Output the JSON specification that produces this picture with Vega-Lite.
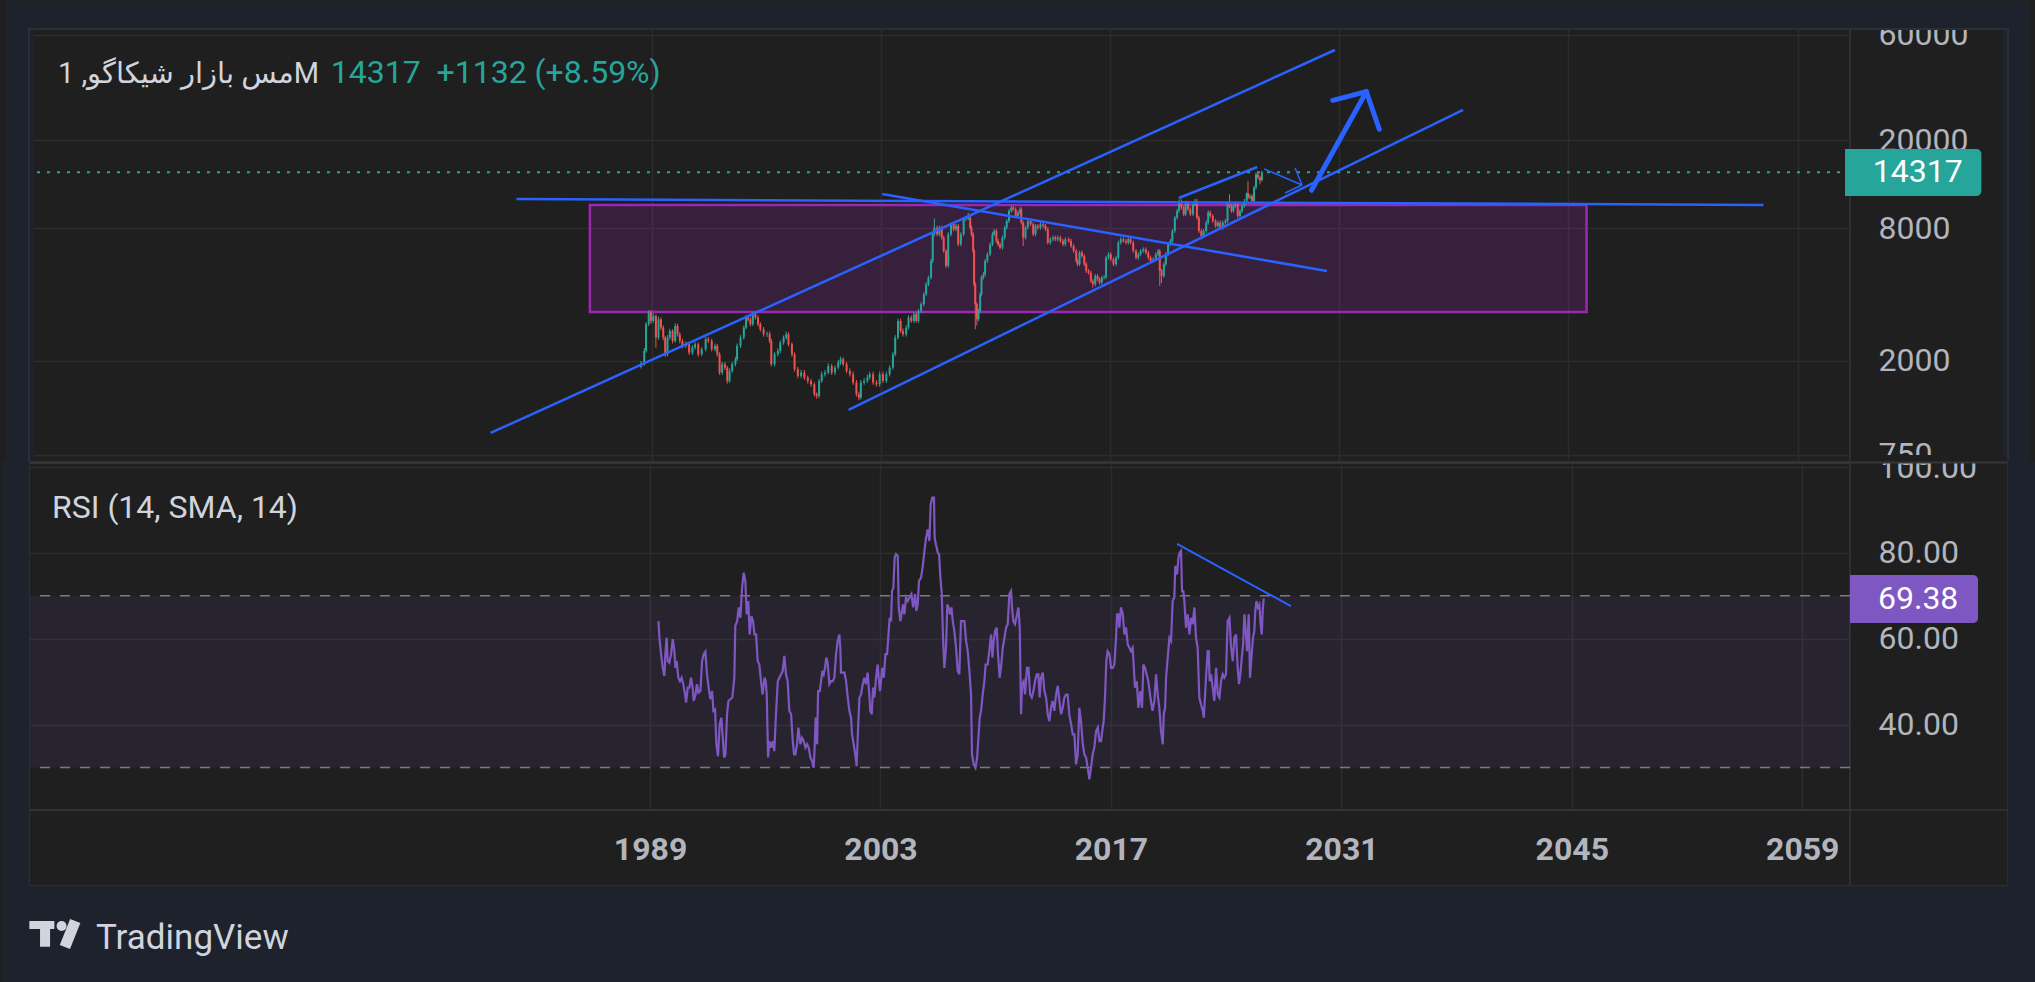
{
"$schema": "https://vega.github.io/schema/vega-lite/v6.json",
"background": "#1f1f1f",
"padding": 0,
"spacing": 1,
"bounds": "flush",
"config": {
 "view": {"stroke": "#363636", "strokeWidth": 1.5},
 "axis": {"labelFont": "Roboto", "labelFontSize": 32, "labelColor": "#b2b5be", "gridColor": "#2c2c2c", "gridWidth": 1.5, "domain": false, "ticks": false, "tickSize": 0, "labelPadding": 28}
},
"datasets": {
 "one": [{}],
 "candles": [
{"t":1988.35,"o":1880,"h":2000,"l":1850,"c":1946},
{"t":1988.55,"o":1946,"h":2290,"l":1900,"c":2221},
{"t":1988.66,"o":2221,"h":3000,"l":2180,"c":2934},
{"t":1988.82,"o":2934,"h":3395,"l":2880,"c":3313},
{"t":1988.96,"o":3313,"h":3400,"l":2950,"c":3037},
{"t":1989.10,"o":3037,"h":3300,"l":2980,"c":3200},
{"t":1989.26,"o":3200,"h":3250,"l":2300,"c":2553},
{"t":1989.42,"o":2553,"h":3180,"l":2500,"c":3090},
{"t":1989.57,"o":3090,"h":3150,"l":2760,"c":2833},
{"t":1989.71,"o":2833,"h":2900,"l":2480,"c":2553},
{"t":1989.83,"o":2553,"h":2600,"l":2090,"c":2145},
{"t":1989.97,"o":2145,"h":2620,"l":2100,"c":2553},
{"t":1990.11,"o":2553,"h":2800,"l":2500,"c":2736},
{"t":1990.28,"o":2736,"h":2790,"l":2400,"c":2466},
{"t":1990.44,"o":2466,"h":2960,"l":2420,"c":2883},
{"t":1990.58,"o":2883,"h":2950,"l":2580,"c":2643},
{"t":1990.72,"o":2643,"h":2700,"l":2400,"c":2466},
{"t":1990.88,"o":2466,"h":2520,"l":2280,"c":2340},
{"t":1991.09,"o":2340,"h":2450,"l":2290,"c":2381},
{"t":1991.29,"o":2381,"h":2430,"l":2130,"c":2183},
{"t":1991.49,"o":2183,"h":2360,"l":2130,"c":2300},
{"t":1991.65,"o":2300,"h":2440,"l":2250,"c":2381},
{"t":1991.85,"o":2381,"h":2430,"l":2090,"c":2145},
{"t":1992.06,"o":2145,"h":2310,"l":2100,"c":2260},
{"t":1992.30,"o":2260,"h":2570,"l":2210,"c":2509},
{"t":1992.46,"o":2509,"h":2570,"l":2410,"c":2466},
{"t":1992.67,"o":2466,"h":2520,"l":2210,"c":2260},
{"t":1992.87,"o":2260,"h":2400,"l":2210,"c":2340},
{"t":1993.01,"o":2340,"h":2390,"l":2090,"c":2145},
{"t":1993.15,"o":2145,"h":2190,"l":1730,"c":1772},
{"t":1993.31,"o":1772,"h":1980,"l":1730,"c":1933},
{"t":1993.48,"o":1933,"h":1980,"l":1820,"c":1867},
{"t":1993.62,"o":1867,"h":1900,"l":1580,"c":1624},
{"t":1993.76,"o":1624,"h":1850,"l":1590,"c":1803},
{"t":1993.92,"o":1803,"h":1980,"l":1770,"c":1933},
{"t":1994.12,"o":1933,"h":2090,"l":1890,"c":2036},
{"t":1994.22,"o":2036,"h":2400,"l":2000,"c":2340},
{"t":1994.43,"o":2340,"h":2620,"l":2290,"c":2553},
{"t":1994.63,"o":2553,"h":2900,"l":2500,"c":2833},
{"t":1994.77,"o":2833,"h":3220,"l":2780,"c":3145},
{"t":1994.89,"o":3145,"h":3230,"l":3020,"c":3090},
{"t":1995.03,"o":3090,"h":3170,"l":2870,"c":2934},
{"t":1995.18,"o":2934,"h":3330,"l":2880,"c":3256},
{"t":1995.34,"o":3256,"h":3340,"l":3080,"c":3145},
{"t":1995.50,"o":3145,"h":3220,"l":2870,"c":2934},
{"t":1995.64,"o":2934,"h":3000,"l":2720,"c":2784},
{"t":1995.84,"o":2784,"h":2850,"l":2580,"c":2643},
{"t":1996.05,"o":2643,"h":2720,"l":2570,"c":2660},
{"t":1996.21,"o":2660,"h":2720,"l":2410,"c":2466},
{"t":1996.31,"o":2466,"h":2520,"l":1890,"c":1933},
{"t":1996.51,"o":1933,"h":2200,"l":1890,"c":2145},
{"t":1996.71,"o":2145,"h":2280,"l":2100,"c":2221},
{"t":1996.86,"o":2221,"h":2480,"l":2170,"c":2423},
{"t":1997.06,"o":2423,"h":2610,"l":2370,"c":2553},
{"t":1997.22,"o":2553,"h":2720,"l":2500,"c":2643},
{"t":1997.36,"o":2643,"h":2700,"l":2330,"c":2381},
{"t":1997.57,"o":2381,"h":2430,"l":2090,"c":2145},
{"t":1997.73,"o":2145,"h":2190,"l":1790,"c":1835},
{"t":1997.93,"o":1835,"h":1880,"l":1670,"c":1711},
{"t":1998.13,"o":1711,"h":1820,"l":1670,"c":1772},
{"t":1998.33,"o":1772,"h":1820,"l":1640,"c":1682},
{"t":1998.54,"o":1682,"h":1720,"l":1580,"c":1624},
{"t":1998.74,"o":1624,"h":1660,"l":1530,"c":1569},
{"t":1998.94,"o":1569,"h":1600,"l":1380,"c":1413},
{"t":1999.08,"o":1413,"h":1440,"l":1350,"c":1389},
{"t":1999.23,"o":1389,"h":1660,"l":1360,"c":1624},
{"t":1999.39,"o":1624,"h":1790,"l":1590,"c":1741},
{"t":1999.59,"o":1741,"h":1820,"l":1700,"c":1772},
{"t":1999.79,"o":1772,"h":1950,"l":1740,"c":1900},
{"t":2000.00,"o":1900,"h":1940,"l":1730,"c":1772},
{"t":2000.20,"o":1772,"h":1910,"l":1730,"c":1867},
{"t":2000.40,"o":1867,"h":2020,"l":1830,"c":1967},
{"t":2000.54,"o":1967,"h":2090,"l":1920,"c":2036},
{"t":2000.70,"o":2036,"h":2080,"l":1890,"c":1933},
{"t":2000.91,"o":1933,"h":1980,"l":1760,"c":1803},
{"t":2001.11,"o":1803,"h":1850,"l":1700,"c":1741},
{"t":2001.31,"o":1741,"h":1790,"l":1560,"c":1596},
{"t":2001.51,"o":1596,"h":1640,"l":1380,"c":1413},
{"t":2001.66,"o":1413,"h":1450,"l":1330,"c":1365},
{"t":2001.78,"o":1365,"h":1640,"l":1340,"c":1596},
{"t":2001.98,"o":1596,"h":1670,"l":1560,"c":1624},
{"t":2002.18,"o":1624,"h":1730,"l":1590,"c":1682},
{"t":2002.32,"o":1682,"h":1790,"l":1650,"c":1741},
{"t":2002.53,"o":1741,"h":1790,"l":1560,"c":1596},
{"t":2002.73,"o":1596,"h":1640,"l":1530,"c":1569},
{"t":2002.93,"o":1569,"h":1790,"l":1530,"c":1741},
{"t":2003.13,"o":1741,"h":1790,"l":1590,"c":1624},
{"t":2003.34,"o":1624,"h":1790,"l":1590,"c":1741},
{"t":2003.54,"o":1741,"h":1910,"l":1700,"c":1867},
{"t":2003.74,"o":1867,"h":2200,"l":1830,"c":2145},
{"t":2003.88,"o":2145,"h":2620,"l":2100,"c":2553},
{"t":2004.05,"o":2553,"h":3110,"l":2500,"c":3037},
{"t":2004.21,"o":3037,"h":3110,"l":2680,"c":2736},
{"t":2004.35,"o":2736,"h":2810,"l":2580,"c":2643},
{"t":2004.55,"o":2643,"h":2900,"l":2580,"c":2833},
{"t":2004.69,"o":2833,"h":3220,"l":2780,"c":3145},
{"t":2004.86,"o":3145,"h":3220,"l":2980,"c":3037},
{"t":2005.02,"o":3037,"h":3330,"l":2980,"c":3256},
{"t":2005.16,"o":3256,"h":3330,"l":2980,"c":3037},
{"t":2005.30,"o":3037,"h":3450,"l":2980,"c":3371},
{"t":2005.46,"o":3371,"h":3700,"l":3300,"c":3614},
{"t":2005.63,"o":3614,"h":4100,"l":3540,"c":4011},
{"t":2005.77,"o":4011,"h":4550,"l":3930,"c":4453},
{"t":2005.91,"o":4453,"h":4880,"l":4360,"c":4774},
{"t":2006.07,"o":4774,"h":5800,"l":4680,"c":5680},
{"t":2006.17,"o":5680,"h":7660,"l":5560,"c":7501},
{"t":2006.27,"o":7501,"h":8850,"l":7350,"c":8041},
{"t":2006.44,"o":8041,"h":8200,"l":7350,"c":7501},
{"t":2006.58,"o":7501,"h":8200,"l":7350,"c":8041},
{"t":2006.72,"o":8041,"h":8200,"l":7100,"c":7245},
{"t":2006.84,"o":7245,"h":7400,"l":6180,"c":6304},
{"t":2006.98,"o":6304,"h":6430,"l":5280,"c":5392},
{"t":2007.12,"o":5392,"h":7660,"l":5280,"c":7501},
{"t":2007.29,"o":7501,"h":8500,"l":7350,"c":8326},
{"t":2007.45,"o":8326,"h":8500,"l":7750,"c":7904},
{"t":2007.59,"o":7904,"h":8350,"l":7750,"c":8183},
{"t":2007.73,"o":8183,"h":8350,"l":6620,"c":6759},
{"t":2007.89,"o":6759,"h":7660,"l":6620,"c":7501},
{"t":2008.06,"o":7501,"h":8950,"l":7350,"c":8772},
{"t":2008.20,"o":8772,"h":8950,"l":8600,"c":8800},
{"t":2008.34,"o":8800,"h":9405,"l":8700,"c":8925},
{"t":2008.46,"o":8925,"h":9100,"l":7880,"c":8041},
{"t":2008.54,"o":8041,"h":8200,"l":7350,"c":7501},
{"t":2008.64,"o":7501,"h":7660,"l":6180,"c":6304},
{"t":2008.70,"o":6304,"h":6430,"l":4360,"c":4453},
{"t":2008.77,"o":4453,"h":4550,"l":2784,"c":3614},
{"t":2008.87,"o":3614,"h":3700,"l":2900,"c":3090},
{"t":2008.97,"o":3090,"h":3450,"l":3030,"c":3371},
{"t":2009.07,"o":3371,"h":4100,"l":3300,"c":4011},
{"t":2009.15,"o":4011,"h":4880,"l":3930,"c":4774},
{"t":2009.27,"o":4774,"h":5050,"l":4680,"c":4943},
{"t":2009.37,"o":4943,"h":5800,"l":4840,"c":5680},
{"t":2009.51,"o":5680,"h":6220,"l":5570,"c":6089},
{"t":2009.68,"o":6089,"h":6900,"l":5970,"c":6759},
{"t":2009.82,"o":6759,"h":7660,"l":6620,"c":7501},
{"t":2009.92,"o":7501,"h":7930,"l":7350,"c":7767},
{"t":2010.06,"o":7767,"h":7930,"l":6860,"c":6998},
{"t":2010.16,"o":6998,"h":7150,"l":6620,"c":6759},
{"t":2010.28,"o":6759,"h":6900,"l":6400,"c":6527},
{"t":2010.43,"o":6527,"h":7400,"l":6400,"c":7245},
{"t":2010.57,"o":7245,"h":8200,"l":7100,"c":8041},
{"t":2010.69,"o":8041,"h":8800,"l":7880,"c":8620},
{"t":2010.83,"o":8620,"h":9770,"l":8450,"c":9571},
{"t":2010.97,"o":9571,"h":10100,"l":9380,"c":9910},
{"t":2011.09,"o":9910,"h":10085,"l":9550,"c":9740},
{"t":2011.24,"o":9740,"h":9940,"l":8900,"c":9080},
{"t":2011.38,"o":9080,"h":9600,"l":8900,"c":9405},
{"t":2011.50,"o":9405,"h":9940,"l":9220,"c":9740},
{"t":2011.58,"o":9740,"h":9940,"l":8300,"c":8472},
{"t":2011.70,"o":8472,"h":8650,"l":6642,"c":7245},
{"t":2011.84,"o":7245,"h":8200,"l":7100,"c":8041},
{"t":2011.98,"o":8041,"h":8800,"l":7880,"c":8620},
{"t":2012.15,"o":8620,"h":8800,"l":8160,"c":8326},
{"t":2012.31,"o":8326,"h":8500,"l":7350,"c":7501},
{"t":2012.45,"o":7501,"h":8350,"l":7350,"c":8183},
{"t":2012.59,"o":8183,"h":8350,"l":7880,"c":8041},
{"t":2012.75,"o":8041,"h":8500,"l":7880,"c":8326},
{"t":2012.92,"o":8326,"h":8500,"l":8020,"c":8183},
{"t":2013.06,"o":8183,"h":8350,"l":7750,"c":7904},
{"t":2013.20,"o":7904,"h":8060,"l":6740,"c":6878},
{"t":2013.36,"o":6878,"h":7270,"l":6740,"c":7121},
{"t":2013.52,"o":7121,"h":7400,"l":6980,"c":7245},
{"t":2013.66,"o":7245,"h":7400,"l":6980,"c":7121},
{"t":2013.81,"o":7121,"h":7400,"l":6980,"c":7245},
{"t":2013.97,"o":7245,"h":7400,"l":6860,"c":6998},
{"t":2014.13,"o":6998,"h":7150,"l":6620,"c":6759},
{"t":2014.27,"o":6759,"h":7270,"l":6620,"c":7121},
{"t":2014.48,"o":7121,"h":7270,"l":6860,"c":6998},
{"t":2014.62,"o":6998,"h":7150,"l":6510,"c":6642},
{"t":2014.78,"o":6642,"h":6780,"l":6180,"c":6304},
{"t":2014.94,"o":6304,"h":6430,"l":5570,"c":5680},
{"t":2015.02,"o":5680,"h":5800,"l":5380,"c":5486},
{"t":2015.14,"o":5486,"h":6320,"l":5380,"c":6195},
{"t":2015.29,"o":6195,"h":6320,"l":5860,"c":5984},
{"t":2015.43,"o":5984,"h":6100,"l":5380,"c":5486},
{"t":2015.55,"o":5486,"h":5600,"l":5010,"c":5117},
{"t":2015.69,"o":5117,"h":5220,"l":4930,"c":5029},
{"t":2015.83,"o":5029,"h":5130,"l":4520,"c":4610},
{"t":2015.95,"o":4610,"h":4700,"l":4300,"c":4453},
{"t":2016.10,"o":4453,"h":4960,"l":4360,"c":4858},
{"t":2016.24,"o":4858,"h":4960,"l":4600,"c":4691},
{"t":2016.36,"o":4691,"h":4790,"l":4440,"c":4531},
{"t":2016.50,"o":4531,"h":4870,"l":4440,"c":4774},
{"t":2016.64,"o":4774,"h":4900,"l":4680,"c":4800},
{"t":2016.76,"o":4800,"h":6000,"l":4700,"c":5881},
{"t":2016.91,"o":5881,"h":6220,"l":5760,"c":6089},
{"t":2017.05,"o":6089,"h":6220,"l":5660,"c":5780},
{"t":2017.21,"o":5780,"h":5900,"l":5380,"c":5486},
{"t":2017.37,"o":5486,"h":6000,"l":5380,"c":5881},
{"t":2017.51,"o":5881,"h":7020,"l":5760,"c":6878},
{"t":2017.66,"o":6878,"h":7270,"l":6740,"c":7121},
{"t":2017.82,"o":7121,"h":7270,"l":6860,"c":6998},
{"t":2017.98,"o":6998,"h":7150,"l":6740,"c":6878},
{"t":2018.12,"o":6878,"h":7270,"l":6740,"c":7121},
{"t":2018.26,"o":7121,"h":7270,"l":6740,"c":6878},
{"t":2018.42,"o":6878,"h":7020,"l":6180,"c":6304},
{"t":2018.59,"o":6304,"h":6430,"l":5760,"c":5881},
{"t":2018.73,"o":5881,"h":6220,"l":5760,"c":6089},
{"t":2018.87,"o":6089,"h":6430,"l":5970,"c":6304},
{"t":2019.03,"o":6304,"h":6550,"l":6180,"c":6415},
{"t":2019.19,"o":6415,"h":6550,"l":6070,"c":6195},
{"t":2019.34,"o":6195,"h":6320,"l":5760,"c":5881},
{"t":2019.48,"o":5881,"h":6000,"l":5570,"c":5680},
{"t":2019.64,"o":5680,"h":5900,"l":5570,"c":5780},
{"t":2019.80,"o":5780,"h":6220,"l":5660,"c":6089},
{"t":2019.94,"o":6089,"h":6430,"l":5970,"c":6304},
{"t":2020.04,"o":6304,"h":6430,"l":4376,"c":5117},
{"t":2020.15,"o":5117,"h":5220,"l":4500,"c":4858},
{"t":2020.29,"o":4858,"h":5600,"l":4760,"c":5486},
{"t":2020.41,"o":5486,"h":6220,"l":5380,"c":6089},
{"t":2020.55,"o":6089,"h":6900,"l":5970,"c":6759},
{"t":2020.69,"o":6759,"h":7150,"l":6620,"c":6998},
{"t":2020.81,"o":6998,"h":7930,"l":6860,"c":7767},
{"t":2020.96,"o":7767,"h":9100,"l":7610,"c":8925},
{"t":2021.10,"o":8925,"h":9770,"l":8750,"c":9571},
{"t":2021.22,"o":9571,"h":10810,"l":9380,"c":10623},
{"t":2021.36,"o":10623,"h":10810,"l":9710,"c":9910},
{"t":2021.50,"o":9910,"h":10100,"l":9060,"c":9241},
{"t":2021.62,"o":9241,"h":10650,"l":9060,"c":10440},
{"t":2021.77,"o":10440,"h":10650,"l":9550,"c":9740},
{"t":2021.91,"o":9740,"h":9940,"l":9060,"c":9241},
{"t":2022.07,"o":9241,"h":10470,"l":9060,"c":10260},
{"t":2022.19,"o":10260,"h":10840,"l":10050,"c":10623},
{"t":2022.31,"o":10623,"h":10840,"l":8750,"c":8925},
{"t":2022.43,"o":8925,"h":9100,"l":7610,"c":7767},
{"t":2022.58,"o":7767,"h":7930,"l":7121,"c":7372},
{"t":2022.72,"o":7372,"h":7930,"l":7220,"c":7767},
{"t":2022.88,"o":7767,"h":8650,"l":7610,"c":8472},
{"t":2023.00,"o":8472,"h":9600,"l":8300,"c":9405},
{"t":2023.12,"o":9405,"h":9600,"l":8900,"c":9080},
{"t":2023.28,"o":9080,"h":9260,"l":8450,"c":8620},
{"t":2023.45,"o":8620,"h":8800,"l":8020,"c":8183},
{"t":2023.59,"o":8183,"h":8650,"l":8020,"c":8472},
{"t":2023.73,"o":8472,"h":8650,"l":7880,"c":8041},
{"t":2023.89,"o":8041,"h":8650,"l":7880,"c":8472},
{"t":2024.05,"o":8472,"h":8800,"l":8300,"c":8620},
{"t":2024.18,"o":8620,"h":10470,"l":8450,"c":10260},
{"t":2024.30,"o":10260,"h":11388,"l":9880,"c":10085},
{"t":2024.42,"o":10085,"h":10290,"l":9380,"c":9571},
{"t":2024.54,"o":9571,"h":10290,"l":9380,"c":10085},
{"t":2024.66,"o":10085,"h":10470,"l":9880,"c":10260},
{"t":2024.80,"o":10260,"h":10470,"l":8900,"c":9080},
{"t":2024.94,"o":9080,"h":9770,"l":8900,"c":9571},
{"t":2025.07,"o":9571,"h":10290,"l":9380,"c":10085},
{"t":2025.21,"o":10085,"h":10840,"l":9880,"c":10623},
{"t":2025.35,"o":10623,"h":11600,"l":10410,"c":11500},
{"t":2025.43,"o":11500,"h":13084,"l":10800,"c":11000},
{"t":2025.55,"o":11000,"h":11400,"l":10800,"c":11150},
{"t":2025.67,"o":11150,"h":11380,"l":10410,"c":10623},
{"t":2025.80,"o":10623,"h":12450,"l":10410,"c":12209},
{"t":2025.92,"o":12209,"h":14300,"l":11960,"c":14026},
{"t":2026.04,"o":14026,"h":14300,"l":13280,"c":13547},
{"t":2026.16,"o":13547,"h":13820,"l":12640,"c":13185},
{"t":2026.28,"o":13185,"h":14560,"l":13000,"c":14317}
 ],
 "rsi": [
{"t":1989.51,"r":64.1},{"t":1989.57,"r":60.2},{"t":1989.67,"r":56.4},{"t":1989.77,"r":53.2},{"t":1989.87,"r":51.3},{"t":1989.93,"r":56.4},{"t":1990.01,"r":60.2},{"t":1990.07,"r":54.8},{"t":1990.17,"r":54.4},{"t":1990.28,"r":56.4},{"t":1990.38,"r":59.9},{"t":1990.48,"r":57.1},{"t":1990.54,"r":53.2},{"t":1990.62,"r":54.8},{"t":1990.72,"r":50.9},{"t":1990.82,"r":50.1},{"t":1990.92,"r":50.9},{"t":1991.02,"r":49.4},{"t":1991.13,"r":47.0},{"t":1991.19,"r":45.1},{"t":1991.29,"r":48.6},{"t":1991.39,"r":48.6},{"t":1991.49,"r":50.9},{"t":1991.59,"r":48.6},{"t":1991.65,"r":45.5},{"t":1991.75,"r":46.7},{"t":1991.85,"r":49.4},{"t":1991.94,"r":47.4},{"t":1992.06,"r":47.8},{"t":1992.16,"r":54.8},{"t":1992.26,"r":56.4},{"t":1992.36,"r":57.0},{"t":1992.46,"r":51.7},{"t":1992.56,"r":48.6},{"t":1992.66,"r":45.9},{"t":1992.77,"r":47.8},{"t":1992.85,"r":43.2},{"t":1992.95,"r":43.5},{"t":1993.03,"r":35.4},{"t":1993.13,"r":32.6},{"t":1993.23,"r":40.0},{"t":1993.33,"r":41.6},{"t":1993.41,"r":37.3},{"t":1993.50,"r":32.3},{"t":1993.58,"r":33.0},{"t":1993.68,"r":42.4},{"t":1993.76,"r":45.5},{"t":1993.88,"r":45.9},{"t":1994.00,"r":46.3},{"t":1994.12,"r":50.9},{"t":1994.18,"r":63.0},{"t":1994.29,"r":64.1},{"t":1994.39,"r":67.3},{"t":1994.49,"r":64.9},{"t":1994.59,"r":71.9},{"t":1994.69,"r":75.4},{"t":1994.79,"r":73.5},{"t":1994.87,"r":65.7},{"t":1994.97,"r":68.8},{"t":1995.05,"r":61.0},{"t":1995.16,"r":65.3},{"t":1995.26,"r":64.1},{"t":1995.34,"r":61.0},{"t":1995.44,"r":61.0},{"t":1995.54,"r":54.8},{"t":1995.64,"r":54.0},{"t":1995.74,"r":50.1},{"t":1995.84,"r":47.0},{"t":1995.95,"r":50.9},{"t":1996.03,"r":50.1},{"t":1996.09,"r":47.0},{"t":1996.17,"r":32.3},{"t":1996.25,"r":36.1},{"t":1996.35,"r":34.6},{"t":1996.45,"r":36.1},{"t":1996.55,"r":33.8},{"t":1996.65,"r":42.4},{"t":1996.76,"r":50.1},{"t":1996.86,"r":50.9},{"t":1996.96,"r":51.7},{"t":1997.06,"r":52.5},{"t":1997.16,"r":56.0},{"t":1997.26,"r":51.7},{"t":1997.36,"r":50.1},{"t":1997.46,"r":43.2},{"t":1997.57,"r":42.4},{"t":1997.67,"r":36.1},{"t":1997.75,"r":33.0},{"t":1997.83,"r":33.0},{"t":1997.93,"r":35.4},{"t":1998.01,"r":39.3},{"t":1998.13,"r":35.4},{"t":1998.23,"r":36.9},{"t":1998.34,"r":36.1},{"t":1998.44,"r":34.6},{"t":1998.54,"r":35.4},{"t":1998.64,"r":34.6},{"t":1998.74,"r":32.3},{"t":1998.84,"r":31.5},{"t":1998.94,"r":29.9},{"t":1999.00,"r":34.6},{"t":1999.06,"r":41.6},{"t":1999.15,"r":35.4},{"t":1999.21,"r":47.8},{"t":1999.31,"r":47.8},{"t":1999.39,"r":50.1},{"t":1999.47,"r":52.5},{"t":1999.55,"r":51.7},{"t":1999.63,"r":53.2},{"t":1999.71,"r":55.6},{"t":1999.79,"r":54.4},{"t":1999.89,"r":49.4},{"t":2000.00,"r":50.1},{"t":2000.10,"r":50.1},{"t":2000.20,"r":50.9},{"t":2000.30,"r":56.4},{"t":2000.40,"r":59.5},{"t":2000.50,"r":61.0},{"t":2000.56,"r":57.9},{"t":2000.60,"r":52.1},{"t":2000.70,"r":52.1},{"t":2000.81,"r":52.1},{"t":2000.91,"r":50.1},{"t":2001.01,"r":46.3},{"t":2001.11,"r":43.2},{"t":2001.21,"r":41.6},{"t":2001.27,"r":37.7},{"t":2001.37,"r":35.4},{"t":2001.47,"r":33.0},{"t":2001.55,"r":30.3},{"t":2001.64,"r":39.3},{"t":2001.72,"r":46.3},{"t":2001.82,"r":47.0},{"t":2001.92,"r":49.4},{"t":2002.02,"r":50.9},{"t":2002.12,"r":49.4},{"t":2002.22,"r":52.1},{"t":2002.32,"r":47.0},{"t":2002.38,"r":43.2},{"t":2002.47,"r":42.4},{"t":2002.55,"r":48.6},{"t":2002.63,"r":46.3},{"t":2002.73,"r":50.9},{"t":2002.83,"r":54.0},{"t":2002.89,"r":50.9},{"t":2002.97,"r":47.8},{"t":2003.03,"r":50.1},{"t":2003.11,"r":53.2},{"t":2003.20,"r":50.9},{"t":2003.30,"r":56.4},{"t":2003.40,"r":56.4},{"t":2003.50,"r":61.8},{"t":2003.56,"r":64.9},{"t":2003.64,"r":64.1},{"t":2003.70,"r":71.1},{"t":2003.78,"r":71.9},{"t":2003.86,"r":78.9},{"t":2003.94,"r":79.7},{"t":2004.05,"r":79.3},{"t":2004.11,"r":67.3},{"t":2004.21,"r":64.1},{"t":2004.29,"r":66.1},{"t":2004.37,"r":68.0},{"t":2004.45,"r":65.7},{"t":2004.55,"r":69.6},{"t":2004.65,"r":68.8},{"t":2004.77,"r":69.6},{"t":2004.88,"r":70.4},{"t":2004.98,"r":67.3},{"t":2005.10,"r":70.4},{"t":2005.18,"r":66.5},{"t":2005.26,"r":68.0},{"t":2005.34,"r":73.5},{"t":2005.46,"r":74.2},{"t":2005.56,"r":76.6},{"t":2005.67,"r":80.5},{"t":2005.77,"r":83.6},{"t":2005.87,"r":85.5},{"t":2005.97,"r":82.8},{"t":2006.05,"r":91.4},{"t":2006.15,"r":92.9},{"t":2006.25,"r":92.9},{"t":2006.29,"r":83.6},{"t":2006.37,"r":82.0},{"t":2006.48,"r":80.1},{"t":2006.56,"r":79.7},{"t":2006.64,"r":74.2},{"t":2006.72,"r":70.7},{"t":2006.80,"r":60.2},{"t":2006.88,"r":53.2},{"t":2006.98,"r":57.9},{"t":2007.06,"r":68.0},{"t":2007.14,"r":67.3},{"t":2007.22,"r":65.7},{"t":2007.31,"r":67.3},{"t":2007.39,"r":64.1},{"t":2007.49,"r":61.8},{"t":2007.59,"r":57.9},{"t":2007.69,"r":52.5},{"t":2007.79,"r":51.7},{"t":2007.89,"r":64.1},{"t":2007.99,"r":64.1},{"t":2008.10,"r":64.1},{"t":2008.20,"r":59.5},{"t":2008.30,"r":57.1},{"t":2008.40,"r":52.5},{"t":2008.50,"r":47.0},{"t":2008.56,"r":33.0},{"t":2008.66,"r":30.7},{"t":2008.77,"r":29.9},{"t":2008.87,"r":32.3},{"t":2008.95,"r":36.9},{"t":2009.03,"r":41.6},{"t":2009.11,"r":43.2},{"t":2009.21,"r":47.0},{"t":2009.31,"r":50.1},{"t":2009.39,"r":54.0},{"t":2009.51,"r":54.0},{"t":2009.62,"r":57.5},{"t":2009.72,"r":61.0},{"t":2009.80,"r":55.6},{"t":2009.88,"r":59.5},{"t":2009.96,"r":61.8},{"t":2010.06,"r":62.6},{"t":2010.14,"r":56.4},{"t":2010.24,"r":50.9},{"t":2010.32,"r":53.2},{"t":2010.43,"r":57.9},{"t":2010.53,"r":60.2},{"t":2010.63,"r":62.6},{"t":2010.73,"r":63.4},{"t":2010.83,"r":70.4},{"t":2010.93,"r":71.1},{"t":2010.99,"r":67.3},{"t":2011.07,"r":64.1},{"t":2011.17,"r":63.4},{"t":2011.30,"r":65.7},{"t":2011.38,"r":67.3},{"t":2011.46,"r":62.6},{"t":2011.54,"r":42.4},{"t":2011.60,"r":49.4},{"t":2011.70,"r":50.1},{"t":2011.78,"r":47.0},{"t":2011.90,"r":53.2},{"t":2011.99,"r":53.2},{"t":2012.09,"r":47.0},{"t":2012.19,"r":46.3},{"t":2012.29,"r":47.8},{"t":2012.39,"r":50.1},{"t":2012.49,"r":51.7},{"t":2012.59,"r":51.7},{"t":2012.67,"r":46.3},{"t":2012.75,"r":50.9},{"t":2012.86,"r":52.1},{"t":2012.96,"r":47.8},{"t":2013.06,"r":46.3},{"t":2013.16,"r":42.4},{"t":2013.26,"r":40.8},{"t":2013.36,"r":43.9},{"t":2013.46,"r":45.5},{"t":2013.56,"r":43.2},{"t":2013.67,"r":47.0},{"t":2013.77,"r":49.0},{"t":2013.87,"r":45.5},{"t":2013.97,"r":42.4},{"t":2014.07,"r":43.9},{"t":2014.17,"r":46.3},{"t":2014.27,"r":47.0},{"t":2014.37,"r":47.0},{"t":2014.47,"r":42.4},{"t":2014.58,"r":40.0},{"t":2014.68,"r":37.7},{"t":2014.78,"r":37.7},{"t":2014.88,"r":30.7},{"t":2014.98,"r":33.0},{"t":2015.08,"r":43.9},{"t":2015.18,"r":40.8},{"t":2015.29,"r":35.4},{"t":2015.39,"r":33.0},{"t":2015.49,"r":32.3},{"t":2015.59,"r":29.9},{"t":2015.69,"r":27.2},{"t":2015.79,"r":29.9},{"t":2015.89,"r":33.0},{"t":2015.99,"r":34.6},{"t":2016.10,"r":38.5},{"t":2016.20,"r":39.3},{"t":2016.30,"r":36.1},{"t":2016.40,"r":36.1},{"t":2016.50,"r":39.3},{"t":2016.56,"r":40.8},{"t":2016.64,"r":46.3},{"t":2016.72,"r":54.8},{"t":2016.80,"r":57.1},{"t":2016.91,"r":56.4},{"t":2017.01,"r":53.2},{"t":2017.11,"r":53.2},{"t":2017.21,"r":54.0},{"t":2017.31,"r":60.2},{"t":2017.37,"r":65.7},{"t":2017.45,"r":65.7},{"t":2017.51,"r":62.6},{"t":2017.61,"r":67.3},{"t":2017.72,"r":65.7},{"t":2017.82,"r":61.0},{"t":2017.92,"r":62.6},{"t":2018.02,"r":58.7},{"t":2018.12,"r":57.9},{"t":2018.22,"r":57.1},{"t":2018.32,"r":57.9},{"t":2018.38,"r":54.0},{"t":2018.46,"r":48.6},{"t":2018.57,"r":50.1},{"t":2018.67,"r":43.9},{"t":2018.79,"r":47.8},{"t":2018.89,"r":43.9},{"t":2018.97,"r":54.0},{"t":2019.07,"r":53.2},{"t":2019.17,"r":51.7},{"t":2019.27,"r":50.1},{"t":2019.40,"r":46.3},{"t":2019.52,"r":43.2},{"t":2019.64,"r":45.5},{"t":2019.74,"r":51.7},{"t":2019.84,"r":47.0},{"t":2019.94,"r":43.9},{"t":2020.04,"r":38.5},{"t":2020.15,"r":35.4},{"t":2020.21,"r":42.4},{"t":2020.29,"r":43.9},{"t":2020.35,"r":50.9},{"t":2020.45,"r":55.6},{"t":2020.55,"r":60.2},{"t":2020.65,"r":59.5},{"t":2020.75,"r":68.8},{"t":2020.85,"r":69.6},{"t":2020.91,"r":77.0},{"t":2021.02,"r":75.0},{"t":2021.10,"r":78.9},{"t":2021.18,"r":80.1},{"t":2021.26,"r":80.5},{"t":2021.32,"r":71.1},{"t":2021.40,"r":71.1},{"t":2021.46,"r":68.8},{"t":2021.56,"r":62.6},{"t":2021.66,"r":65.7},{"t":2021.77,"r":61.0},{"t":2021.87,"r":64.9},{"t":2021.97,"r":63.4},{"t":2022.07,"r":67.3},{"t":2022.17,"r":60.2},{"t":2022.27,"r":57.9},{"t":2022.37,"r":46.3},{"t":2022.47,"r":44.7},{"t":2022.58,"r":43.2},{"t":2022.64,"r":41.6},{"t":2022.72,"r":47.0},{"t":2022.80,"r":52.5},{"t":2022.88,"r":57.1},{"t":2022.94,"r":57.1},{"t":2023.00,"r":50.1},{"t":2023.08,"r":51.7},{"t":2023.18,"r":48.6},{"t":2023.28,"r":45.5},{"t":2023.39,"r":53.2},{"t":2023.49,"r":47.0},{"t":2023.59,"r":46.3},{"t":2023.69,"r":50.1},{"t":2023.79,"r":51.7},{"t":2023.89,"r":50.9},{"t":2023.99,"r":51.7},{"t":2024.09,"r":64.1},{"t":2024.20,"r":64.9},{"t":2024.30,"r":57.9},{"t":2024.40,"r":54.8},{"t":2024.50,"r":60.2},{"t":2024.60,"r":61.0},{"t":2024.70,"r":53.2},{"t":2024.78,"r":49.4},{"t":2024.86,"r":51.7},{"t":2024.95,"r":55.6},{"t":2025.03,"r":58.7},{"t":2025.11,"r":65.7},{"t":2025.19,"r":61.8},{"t":2025.27,"r":57.1},{"t":2025.37,"r":65.7},{"t":2025.45,"r":50.9},{"t":2025.55,"r":56.4},{"t":2025.63,"r":60.2},{"t":2025.71,"r":61.8},{"t":2025.77,"r":66.5},{"t":2025.84,"r":68.8},{"t":2025.92,"r":67.3},{"t":2026.02,"r":68.0},{"t":2026.08,"r":64.1},{"t":2026.16,"r":61.0},{"t":2026.22,"r":66.5},{"t":2026.28,"r":69.38}
 ],
 "trend": [
  {"t1":1979.16,"p1":944,"t2":2030.74,"p2":51300},
  {"t1":2001.03,"p1":1200,"t2":2038.57,"p2":27440},
  {"t1":1980.74,"p1":10840,"t2":2056.92,"p2":10180},
  {"t1":2003.09,"p1":11430,"t2":2030.25,"p2":5115},
  {"t1":2021.20,"p1":10956,"t2":2026.00,"p2":15130}
 ],
 "thinArrow": [
  {"t1":2026.42,"p1":14826,"t2":2028.73,"p2":12545},
  {"t1":2028.31,"p1":14975,"t2":2028.73,"p2":12545},
  {"t1":2027.70,"p1":11540,"t2":2028.73,"p2":12545}
 ],
 "thickArrow": [
  {"t1":2029.31,"p1":11870,"t2":2032.66,"p2":33210},
  {"t1":2030.61,"p1":30355,"t2":2032.66,"p2":33210},
  {"t1":2033.45,"p1":22430,"t2":2032.66,"p2":33210}
 ],
 "rsiTrend": [
  {"t1":2021.02,"r1":82.1,"t2":2027.94,"r2":67.6}
 ]
},
"vconcat": [
 {
  "width": 1821, "height": 433,
  "layer": [
   {"data": {"name": "one"}, "mark": {"type": "rect", "fill": "#9c27b0", "fillOpacity": 0.2, "stroke": "#9c27b0", "strokeWidth": 2.5},
    "encoding": {
     "x": {"datum": 1985.23, "type": "quantitative"},
     "x2": {"datum": 2046.11},
     "y": {"datum": 3334, "type": "quantitative"},
     "y2": {"datum": 10180}}},
   {"data": {"name": "one"}, "mark": {"type": "rule", "stroke": "#26a69a", "strokeWidth": 2, "strokeDash": [3, 7]},
    "encoding": {"y": {"datum": 14317, "type": "quantitative"}}},
   {"data": {"name": "candles"}, "mark": {"type": "rule", "strokeWidth": 1},
    "encoding": {
     "x": {"field": "t", "type": "quantitative", "scale": {"domain": [1951.27, 2061.9], "nice": false, "zero": false}, "axis": {"values": [1989, 2003, 2017, 2031, 2045, 2059], "labels": false, "grid": true, "title": null}},
     "y": {"field": "l", "type": "quantitative", "scale": {"type": "log", "domain": [697, 63876], "nice": false}, "axis": {"orient": "right", "values": [750, 2000, 8000, 20000, 60000], "format": "d", "grid": true, "title": null}},
     "y2": {"field": "h"},
     "color": {"condition": {"test": "datum.c >= datum.o", "value": "#26a69a"}, "value": "#ef5350"}}},
   {"data": {"name": "candles"}, "mark": {"type": "bar", "width": 2},
    "encoding": {
     "x": {"field": "t", "type": "quantitative"},
     "y": {"field": "o", "type": "quantitative"},
     "y2": {"field": "c"},
     "color": {"condition": {"test": "datum.c >= datum.o", "value": "#26a69a"}, "value": "#ef5350"}}},
   {"data": {"name": "trend"}, "mark": {"type": "rule", "stroke": "#2962ff", "strokeWidth": 2.5},
    "encoding": {
     "x": {"field": "t1", "type": "quantitative"}, "x2": {"field": "t2"},
     "y": {"field": "p1", "type": "quantitative"}, "y2": {"field": "p2"}}},
   {"data": {"name": "thinArrow"}, "mark": {"type": "rule", "stroke": "#2962ff", "strokeWidth": 1.5},
    "encoding": {
     "x": {"field": "t1", "type": "quantitative"}, "x2": {"field": "t2"},
     "y": {"field": "p1", "type": "quantitative"}, "y2": {"field": "p2"}}},
   {"data": {"name": "thickArrow"}, "mark": {"type": "rule", "stroke": "#2962ff", "strokeWidth": 5, "strokeCap": "round"},
    "encoding": {
     "x": {"field": "t1", "type": "quantitative"}, "x2": {"field": "t2"},
     "y": {"field": "p1", "type": "quantitative"}, "y2": {"field": "p2"}}},
   {"data": {"name": "one"}, "mark": {"type": "text", "text": "مس بازار شیکاگو, 1M", "align": "left", "baseline": "alphabetic", "font": "Roboto, DejaVu Sans", "fontSize": 29, "color": "#d1d4dc"},
    "encoding": {"x": {"datum": 1952.73, "type": "quantitative"}, "y": {"datum": 36370, "type": "quantitative"}}},
   {"data": {"name": "one"}, "mark": {"type": "text", "text": "14317\u00a0\u00a0+1132 (+8.59%)", "align": "left", "baseline": "alphabetic", "font": "Roboto", "fontSize": 32, "color": "#26a69a"},
    "encoding": {"x": {"datum": 1969.4, "type": "quantitative"}, "y": {"datum": 36370, "type": "quantitative"}}},
   {"data": {"name": "one"}, "mark": {"type": "rect", "fill": "#26a69a", "cornerRadiusTopRight": 5, "cornerRadiusBottomRight": 5},
    "encoding": {"x": {"datum": 2061.9, "type": "quantitative"}, "x2": {"datum": 2070.23}, "y": {"datum": 11186, "type": "quantitative"}, "y2": {"datum": 18265}}},
   {"data": {"name": "one"}, "mark": {"type": "text", "text": "14317", "align": "left", "baseline": "middle", "font": "Roboto", "fontSize": 32, "color": "#ffffff"},
    "encoding": {"x": {"datum": 2063.6, "type": "quantitative"}, "y": {"datum": 14317, "type": "quantitative"}}},
   {"data": {"name": "one"}, "mark": {"type": "rect", "fill": "#1e222d"},
    "encoding": {"x": {"datum": 1949.57, "type": "quantitative"}, "x2": {"datum": 2073.2}, "y": {"datum": 63876, "type": "quantitative"}, "y2": {"datum": 85520}}},
   {"data": {"name": "one"}, "mark": {"type": "rect", "fill": "#1e222d"},
    "encoding": {"x": {"datum": 1949.57, "type": "quantitative"}, "x2": {"datum": 1951.27}, "y": {"datum": 697, "type": "quantitative"}, "y2": {"datum": 63876}}},
   {"data": {"name": "one"}, "mark": {"type": "rect", "fill": "#1e222d"},
    "encoding": {"x": {"datum": 2071.5, "type": "quantitative"}, "x2": {"datum": 2073.2}, "y": {"datum": 697, "type": "quantitative"}, "y2": {"datum": 63876}}}
  ]
 },
 {
  "width": 1821, "height": 347,
  "layer": [
   {"data": {"name": "one"}, "mark": {"type": "rect", "fill": "#7e57c2", "fillOpacity": 0.1},
    "encoding": {
     "x": {"datum": 1951.27, "type": "quantitative"},
     "x2": {"datum": 2061.9},
     "y": {"datum": 30, "type": "quantitative"},
     "y2": {"datum": 70}}},
   {"data": {"name": "one"}, "mark": {"type": "rule", "stroke": "#787b86", "strokeWidth": 1.5, "strokeDash": [10, 10]},
    "encoding": {"y": {"datum": 70, "type": "quantitative"}}},
   {"data": {"name": "one"}, "mark": {"type": "rule", "stroke": "#787b86", "strokeWidth": 1.5, "strokeDash": [10, 10]},
    "encoding": {"y": {"datum": 30, "type": "quantitative"}}},
   {"data": {"name": "rsi"}, "mark": {"type": "line", "stroke": "#7e57c2", "strokeWidth": 2.2},
    "encoding": {
     "x": {"field": "t", "type": "quantitative", "scale": {"domain": [1951.27, 2061.9], "nice": false, "zero": false}, "axis": {"values": [1989, 2003, 2017, 2031, 2045, 2059], "format": "d", "grid": true, "title": null, "labelFontWeight": "bold", "labelPadding": 39, "labelBaseline": "middle"}},
     "y": {"field": "r", "type": "quantitative", "scale": {"domain": [20.06, 100.99], "nice": false, "zero": false}, "axis": {"orient": "right", "values": [40, 60, 80, 100], "format": ".2f", "grid": true, "title": null}}}},
   {"data": {"name": "rsiTrend"}, "mark": {"type": "rule", "stroke": "#2962ff", "strokeWidth": 2},
    "encoding": {"x": {"field": "t1", "type": "quantitative"}, "x2": {"field": "t2"}, "y": {"field": "r1", "type": "quantitative"}, "y2": {"field": "r2"}}},
   {"data": {"name": "one"}, "mark": {"type": "text", "text": "RSI (14, SMA, 14)", "align": "left", "baseline": "alphabetic", "font": "Roboto", "fontSize": 32, "color": "#d1d4dc"},
    "encoding": {"x": {"datum": 1952.67, "type": "quantitative"}, "y": {"datum": 88.16, "type": "quantitative"}}},
   {"data": {"name": "one"}, "mark": {"type": "rect", "fill": "#7e57c2", "cornerRadiusTopRight": 5, "cornerRadiusBottomRight": 5},
    "encoding": {"x": {"datum": 2061.9, "type": "quantitative"}, "x2": {"datum": 2069.68}, "y": {"datum": 63.67, "type": "quantitative"}, "y2": {"datum": 74.87}}},
   {"data": {"name": "one"}, "mark": {"type": "text", "text": "69.38", "align": "left", "baseline": "middle", "font": "Roboto", "fontSize": 32, "color": "#ffffff"},
    "encoding": {"x": {"datum": 2063.6, "type": "quantitative"}, "y": {"datum": 69.38, "type": "quantitative"}}},
   {"data": {"name": "one"}, "mark": {"type": "rect", "fill": "#1f1f1f"},
    "encoding": {"x": {"datum": 2062.0, "type": "quantitative"}, "x2": {"datum": 2071.4}, "y": {"datum": 100.99, "type": "quantitative"}, "y2": {"datum": 102.86}}},
   {"data": {"name": "one"}, "mark": {"type": "rule", "stroke": "#363636", "strokeWidth": 2},
    "encoding": {"x": {"datum": 1951.27, "type": "quantitative"}, "x2": {"datum": 2071.5}, "y": {"datum": 101.1, "type": "quantitative"}}},
   {"data": {"name": "one"}, "mark": {"type": "rule", "stroke": "#363636", "strokeWidth": 1.5},
    "encoding": {"x": {"datum": 1951.27, "type": "quantitative"}, "x2": {"datum": 2071.5}, "y": {"datum": 20.06, "type": "quantitative"}}},
   {"data": {"name": "one"}, "mark": {"type": "rule", "stroke": "#363636", "strokeWidth": 1.5},
    "encoding": {"x": {"datum": 2061.9, "type": "quantitative"}, "y": {"datum": 20.06, "type": "quantitative"}, "y2": {"datum": 2.33}}},
   {"data": {"name": "one"}, "mark": {"type": "rect", "filled": false, "stroke": "#2a2e39", "strokeWidth": 2},
    "encoding": {"x": {"datum": 1951.27, "type": "quantitative"}, "x2": {"datum": 2071.5}, "y": {"datum": 2.33, "type": "quantitative"}, "y2": {"datum": 202.2}}},
   {"data": {"name": "one"}, "mark": {"type": "rect", "fill": "#1e222d"},
    "encoding": {"x": {"datum": 1949.57, "type": "quantitative"}, "x2": {"datum": 1951.27}, "y": {"datum": -20.29, "type": "quantitative"}, "y2": {"datum": 101.3}}},
   {"data": {"name": "one"}, "mark": {"type": "rect", "fill": "#1e222d"},
    "encoding": {"x": {"datum": 2071.5, "type": "quantitative"}, "x2": {"datum": 2073.2}, "y": {"datum": -20.29, "type": "quantitative"}, "y2": {"datum": 101.3}}},
   {"data": {"name": "one"}, "mark": {"type": "rect", "fill": "#1e222d"},
    "encoding": {"x": {"datum": 1949.57, "type": "quantitative"}, "x2": {"datum": 2073.2}, "y": {"datum": -20.29, "type": "quantitative"}, "y2": {"datum": 2.33}}},
   {"data": {"name": "one"}, "mark": {"type": "rect", "fill": "#d1d4dc"},
    "encoding": {"x": {"datum": 1951.29, "type": "quantitative"}, "x2": {"datum": 1952.81}, "y": {"datum": -5.83, "type": "quantitative"}, "y2": {"datum": -7.7}}},
   {"data": {"name": "one"}, "mark": {"type": "rect", "fill": "#d1d4dc"},
    "encoding": {"x": {"datum": 1951.94, "type": "quantitative"}, "x2": {"datum": 1952.55}, "y": {"datum": -5.83, "type": "quantitative"}, "y2": {"datum": -11.83}}},
   {"data": {"name": "one"}, "mark": {"type": "point", "filled": true, "size": 100, "color": "#d1d4dc", "opacity": 1},
    "encoding": {"x": {"datum": 1953.25, "type": "quantitative"}, "y": {"datum": -7.0, "type": "quantitative"}}},
   {"data": {"name": "one"}, "mark": {"type": "rule", "stroke": "#d1d4dc", "strokeWidth": 11, "strokeCap": "butt"},
    "encoding": {"x": {"datum": 1953.45, "type": "quantitative"}, "x2": {"datum": 1954.08}, "y": {"datum": -11.9, "type": "quantitative"}, "y2": {"datum": -5.83}}},
   {"data": {"name": "one"}, "mark": {"type": "text", "text": "TradingView", "align": "left", "baseline": "alphabetic", "font": "Roboto", "fontSize": 35, "color": "#d1d4dc"},
    "encoding": {"x": {"datum": 1955.34, "type": "quantitative"}, "y": {"datum": -12.36, "type": "quantitative"}}}
  ]
 }
]
}
